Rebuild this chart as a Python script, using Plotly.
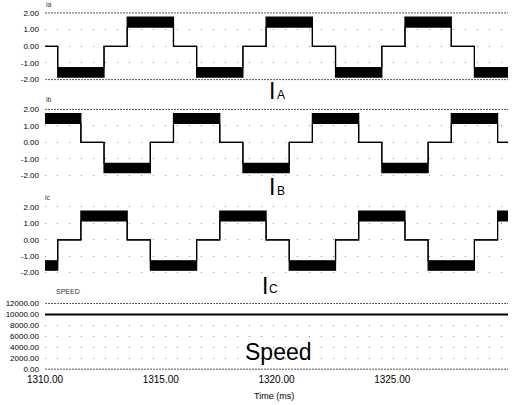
import plotly.graph_objects as go
from plotly.subplots import make_subplots

# ---------------- data ----------------
t_start, t_end = 1310.0, 1330.0

# commutation instants (ms) and state of each phase current (+1 / 0 / -1)
ia_t = [1310.0, 1310.55, 1312.55, 1313.55, 1315.55, 1316.55, 1318.55, 1319.55,
        1321.55, 1322.55, 1324.55, 1325.55, 1327.55, 1328.55]
ia_s = [0, -1, 0, 1, 0, -1, 0, 1, 0, -1, 0, 1, 0, -1]

ib_t = [1310.0, 1311.55, 1312.55, 1314.55, 1315.55, 1317.55, 1318.55, 1320.55,
        1321.55, 1323.55, 1324.55, 1326.55, 1327.55, 1329.55]
ib_s = [1, 0, -1, 0, 1, 0, -1, 0, 1, 0, -1, 0, 1, 0]

ic_t = [1310.0, 1310.55, 1311.55, 1313.55, 1314.55, 1316.55, 1317.55, 1319.55,
        1320.55, 1322.55, 1323.55, 1325.55, 1326.55, 1328.55, 1329.55]
ic_s = [-1, 0, 1, 0, -1, 0, 1, 0, -1, 0, 1, 0, -1, 0, 1]

# PWM ripple band limits (A) for each state
band_hi = {1: 1.75, 0: 0.0, -1: -1.28}
band_lo = {1: 1.15, 0: 0.0, -1: -1.85}

speed_t = [1310.0, 1330.0]
speed_v = [10000.0, 10000.0]

current_ticks = [-2, -1, 0, 1, 2]
current_ticktext = ["-2.00", "-1.00", "0.00", "1.00", "2.00"]
speed_ticks = [0, 2000, 4000, 6000, 8000, 10000, 12000]
speed_ticktext = ["0.00", "2000.00", "4000.00", "6000.00", "8000.00", "10000.00", "12000.00"]
x_ticks = [1310, 1315, 1320, 1325, 1330]
x_ticktext = ["1310.00", "1315.00", "1320.00", "1325.00", "1330.00"]

# ---------------- figure ----------------
W, H = 520, 405
FONT = "Liberation Sans Narrow, Arial Narrow, Liberation Sans, Arial, sans-serif"

fig = make_subplots(rows=4, cols=1, shared_xaxes=True, vertical_spacing=0.02)


def add_phase(row, ts, ss):
    xs = list(ts) + [t_end]
    ss2 = list(ss) + [ss[-1]]
    lo = [band_lo[s] for s in ss2]
    hi = [band_hi[s] for s in ss2]
    fig.add_trace(go.Scatter(x=xs, y=lo, mode="lines", line=dict(shape="hv", color="black", width=1.2),
                             hoverinfo="skip", showlegend=False), row=row, col=1)
    fig.add_trace(go.Scatter(x=xs, y=hi, mode="lines", line=dict(shape="hv", color="black", width=1.2),
                             fill="tonexty", fillcolor="black", hoverinfo="skip", showlegend=False),
                  row=row, col=1)


add_phase(1, ia_t, ia_s)
add_phase(2, ib_t, ib_s)
add_phase(3, ic_t, ic_s)
fig.add_trace(go.Scatter(x=speed_t, y=speed_v, mode="lines", line=dict(color="black", width=2),
                         hoverinfo="skip", showlegend=False), row=4, col=1)


def dom(top_px, bot_px):
    return [1 - bot_px / H, 1 - top_px / H]


domains = [dom(8.65, 82.35), dom(105.7, 178.3), dom(203.7, 276.3), dom(300.7, 373.3)]

for i in range(1, 5):
    ax = "yaxis" if i == 1 else f"yaxis{i}"
    xa = "xaxis" if i == 1 else f"xaxis{i}"
    common_y = dict(domain=domains[i - 1], showline=False, zeroline=False, ticks="",
                    showgrid=True, gridcolor="#8a8a8a", gridwidth=1, griddash="1px,11px",
                    tickfont=dict(family=FONT, size=8, color="black"), ticklabelstandoff=5)
    if i < 4:
        common_y.update(range=[-2.2, 2.2], tickvals=current_ticks, ticktext=current_ticktext)
    else:
        common_y.update(range=[-600, 12600], tickvals=speed_ticks, ticktext=speed_ticktext)
    fig.layout[ax].update(**common_y)
    fig.layout[xa].update(range=[t_start, t_end], showline=False, zeroline=False, ticks="",
                          showgrid=False,
                          tickvals=x_ticks, ticktext=x_ticktext, showticklabels=(i == 4),
                          tickfont=dict(family=FONT, size=10, color="black"))

# dense dotted border lines
dense = [("x", "y", 2), ("x", "y", -2), ("x2", "y2", 2), ("x4", "y4", 12000), ("x4", "y4", 0)]
for xr, yr, yv in dense:
    fig.add_shape(type="line", xref=f"{xr} domain", yref=yr, x0=0, x1=1, y0=yv, y1=yv,
                  line=dict(color="#555", width=1, dash="2px,1px"), layer="below")


def px(x):
    return (x - 45) / (W - 45 - 12)


def py(y):
    return 1 - y / H


ann = []
# big labels
for (xi, yi, sub, xs_, ys_) in [(272, 90, "A", 281, 94), (272, 187, "B", 281, 191), (265, 286, "C", 273, 289)]:
    ann.append(dict(text="I", x=px(xi), y=py(yi), font=dict(family="Liberation Sans, Arial", size=23, color="black")))
    ann.append(dict(text=sub, x=px(xs_), y=py(ys_), font=dict(family="Liberation Sans, Arial", size=12, color="black")))
ann.append(dict(text="Speed", x=px(278), y=py(353), font=dict(family="Liberation Sans, Arial", size=23, color="black")))
ann.append(dict(text="Time (ms)", x=px(274), y=py(397), font=dict(family=FONT, size=9, color="black")))
# small panel markers
for (txt, xx, yy) in [("ia", 49, 4), ("ib", 49, 99), ("ic", 48, 197), ("SPEED", 68, 292)]:
    ann.append(dict(text=txt, x=px(xx), y=py(yy), font=dict(family=FONT, size=7, color="#333")))

for a in ann:
    a.update(xref="paper", yref="paper", showarrow=False, xanchor="center", yanchor="middle")
fig.update_layout(annotations=ann)

fig.update_layout(width=W, height=H, margin=dict(l=45, r=12, t=0, b=0),
                  plot_bgcolor="white", paper_bgcolor="white", showlegend=False)

fig.write_html("out.html")
